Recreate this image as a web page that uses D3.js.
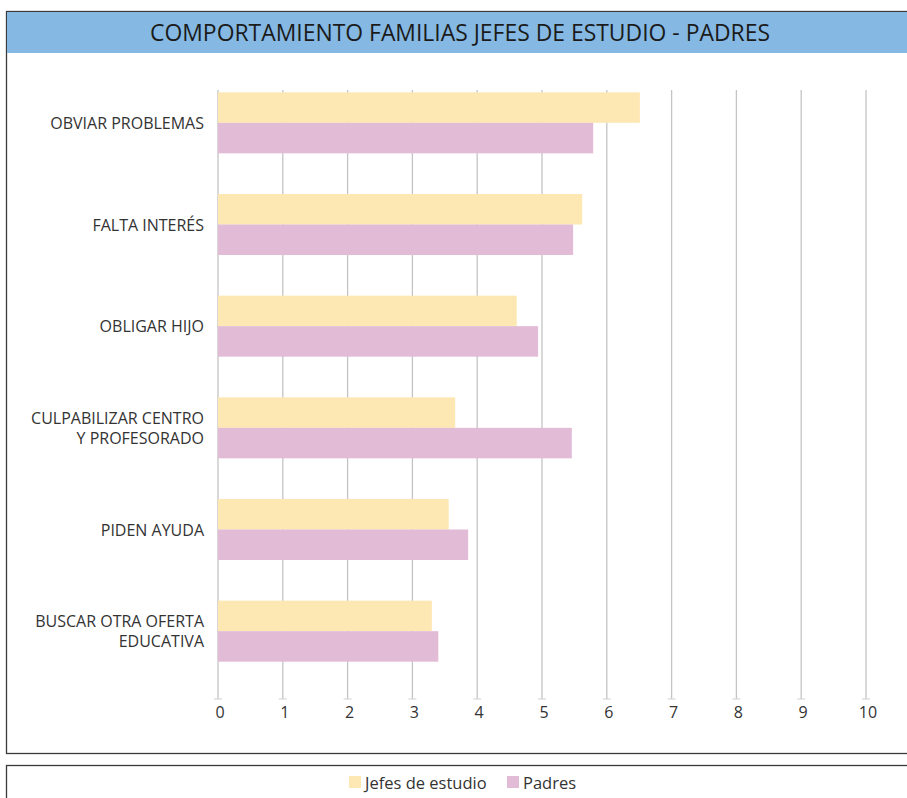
<!DOCTYPE html>
<html>
<head>
<meta charset="utf-8">
<script src="https://cdn.jsdelivr.net/npm/d3@7"></script>
<style>
  body { margin: 0; background: #fff; }
  svg { display: block; font-family: "Open Sans", "Noto Sans", sans-serif; }
</style>
</head>
<body>
<div id="chart"></div>
<script>
// Datos del gráfico
const categories = [
    ["OBVIAR PROBLEMAS"],
    ["FALTA INTERÉS"],
    ["OBLIGAR HIJO"],
    ["CULPABILIZAR CENTRO", "Y PROFESORADO"],
    ["PIDEN AYUDA"],
    ["BUSCAR OTRA OFERTA", "EDUCATIVA"]
];
const seriesNames = ["Jefes de estudio", "Padres"];
const jefesValues = [6.51, 5.62, 4.61, 3.66, 3.56, 3.30];
const padresValues = [5.79, 5.48, 4.94, 5.46, 3.86, 3.40];
const tickValues = [0, 1, 2, 3, 4, 5, 6, 7, 8, 9, 10];
const title = "COMPORTAMIENTO FAMILIAS JEFES DE ESTUDIO - PADRES";

const colors = ["#fde8b3", "#e2bbd6"];
const W = 907, H = 798;

const svg = d3.select("#chart").append("svg")
    .attr("width", W)
    .attr("height", H);

// Marco y cabecera
svg.append("rect")
    .attr("x", 6.5).attr("y", 11.5)
    .attr("width", W).attr("height", 742)
    .attr("fill", "#fff")
    .attr("stroke", "#3a3a3a")
    .attr("stroke-width", 1.3);

svg.append("rect")
    .attr("x", 7).attr("y", 12)
    .attr("width", W).attr("height", 41)
    .attr("fill", "#85b9e3");

svg.append("text")
    .attr("x", 460).attr("y", 41)
    .attr("text-anchor", "middle")
    .attr("fill", "#1b1b1b")
    .style("font-size", "24px")
    .attr("textLength", 620)
    .attr("lengthAdjust", "spacingAndGlyphs")
    .text(title);

// Escalas
const x = d3.scaleLinear().domain([0, 10]).range([218, 866]);
const y = d3.scaleBand()
    .domain(d3.range(categories.length))
    .range([72, 682])
    .paddingInner(0.4)
    .paddingOuter(0.2);

const plot = svg.append("g");

// Rejilla vertical
plot.selectAll("line.grid")
    .data(tickValues)
    .join("line")
    .attr("class", "grid")
    .attr("x1", d => x(d)).attr("x2", d => x(d))
    .attr("y1", 90).attr("y2", 699)
    .attr("stroke", "#c4c4c4")
    .attr("stroke-width", 1.3);

// Marcas del eje
plot.selectAll("line.tick")
    .data(tickValues)
    .join("line")
    .attr("class", "tick")
    .attr("x1", d => x(d) - 4).attr("x2", d => x(d) + 4)
    .attr("y1", 699).attr("y2", 699)
    .attr("stroke", "#d0d0d0")
    .attr("stroke-width", 1);

plot.selectAll("text.tick")
    .data(tickValues)
    .join("text")
    .attr("class", "tick")
    .attr("x", d => x(d) + 2)
    .attr("y", 718)
    .attr("text-anchor", "middle")
    .attr("fill", "#333")
    .style("font-size", "16px")
    .text(d => d);

// Barras
const barH = y.bandwidth() / 2;
const rows = categories.map((c, i) => ({ i, vals: [jefesValues[i], padresValues[i]] }));

const groups = plot.selectAll("g.row")
    .data(rows)
    .join("g")
    .attr("class", "row")
    .attr("transform", d => `translate(0,${y(d.i)})`);

groups.selectAll("rect")
    .data(d => d.vals)
    .join("rect")
    .attr("x", x(0))
    .attr("y", (d, k) => k * barH)
    .attr("width", d => x(d) - x(0))
    .attr("height", barH)
    .attr("fill", (d, k) => colors[k]);

// Etiquetas de categorías
groups.append("text")
    .attr("x", 204)
    .attr("y", d => barH + 6 - (categories[d.i].length - 1) * 10)
    .attr("text-anchor", "end")
    .attr("fill", "#333")
    .style("font-size", "16px")
    .selectAll("tspan")
    .data(d => categories[d.i])
    .join("tspan")
    .attr("x", 204)
    .attr("dy", (d, k) => k === 0 ? 0 : 20)
    .text(d => d);

// Leyenda
svg.append("rect")
    .attr("x", 6.5).attr("y", 765.5)
    .attr("width", W).attr("height", 60)
    .attr("fill", "none")
    .attr("stroke", "#3a3a3a")
    .attr("stroke-width", 1.3);

const legend = svg.append("g").attr("transform", "translate(349,776)");
const legX = [0, 158];
seriesNames.forEach((name, k) => {
    legend.append("rect")
        .attr("x", legX[k]).attr("y", 0)
        .attr("width", 12).attr("height", 12)
        .attr("fill", colors[k]);
    legend.append("text")
        .attr("x", legX[k] + 16).attr("y", 13)
        .attr("fill", "#333")
        .style("font-size", "16.5px")
        .text(name);
});
</script>
</body>
</html>
